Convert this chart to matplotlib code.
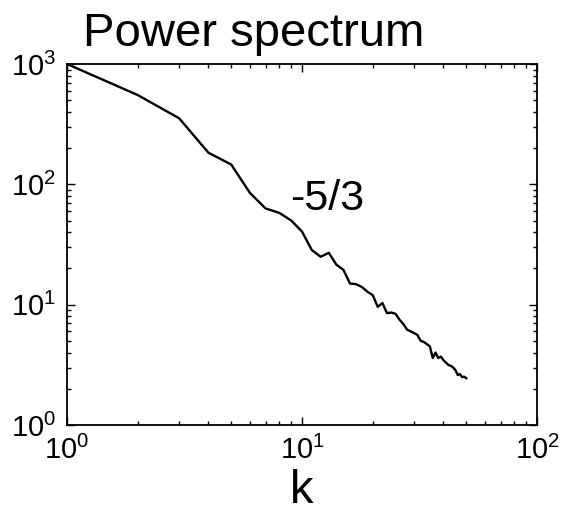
import numpy as np
import matplotlib
matplotlib.use('Agg')
import matplotlib.pyplot as plt

# wavenumber and spectrum values
k = [1, 2, 3, 4, 5, 6, 7, 8, 9, 10,
     11, 12, 13, 14, 15, 16, 17, 18, 19, 20,
     21, 22, 23, 24, 25, 26, 27, 28, 29, 30,
     31, 32, 33, 34, 35, 36, 37, 38, 39, 40,
     41, 42, 43, 44, 45, 46, 47, 48, 49, 50]
power = [1000, 552, 354, 183, 146, 85, 63, 58, 50, 40.5,
         28.5, 25, 27, 21.5, 19.5, 15, 14.8, 14.0, 12.8, 12.0,
         9.6, 10.3, 8.5, 8.6, 8.4, 7.5, 6.9, 6.2, 6.0, 5.8,
         5.6, 5.0, 4.9, 4.7, 4.5, 3.6, 4.0, 3.6, 3.7, 3.45,
         3.3, 3.15, 3.1, 3.0, 2.85, 2.6, 2.65, 2.5, 2.52, 2.45]

title = 'Power spectrum'
slope_label = '-5/3'
xlab = 'k'

plt.rcParams['font.family'] = ['Liberation Sans', 'DejaVu Sans']
plt.rcParams['mathtext.fontset'] = 'custom'
plt.rcParams['mathtext.rm'] = 'Liberation Sans'
plt.rcParams['mathtext.it'] = 'Liberation Sans'
plt.rcParams['mathtext.bf'] = 'Liberation Sans'

fig = plt.figure(figsize=(5.74, 5.17), dpi=100)
ax = fig.add_axes([67/574, 1 - 425/517, (537-67)/574, (425-64)/517])

ax.loglog(k, power, color='black', lw=1.7)
ax.set_xlim(1, 100)
ax.set_ylim(1, 1000)

ax.text(8.9, 76, slope_label, fontsize=31, ha='left', va='center')
ax.set_xlabel(xlab, fontsize=34, labelpad=3)
fig.text(254/574, 1 - 46/517, title, fontsize=34, ha='center', va='baseline')

ax.tick_params(which='both', direction='in', top=True, right=True, width=1)
ax.tick_params(which='major', length=6, labelsize=21, pad=8)
ax.tick_params(which='minor', length=3)
for s in ax.spines.values():
    s.set_linewidth(1.3)

fig.savefig('out.png', dpi=100)
